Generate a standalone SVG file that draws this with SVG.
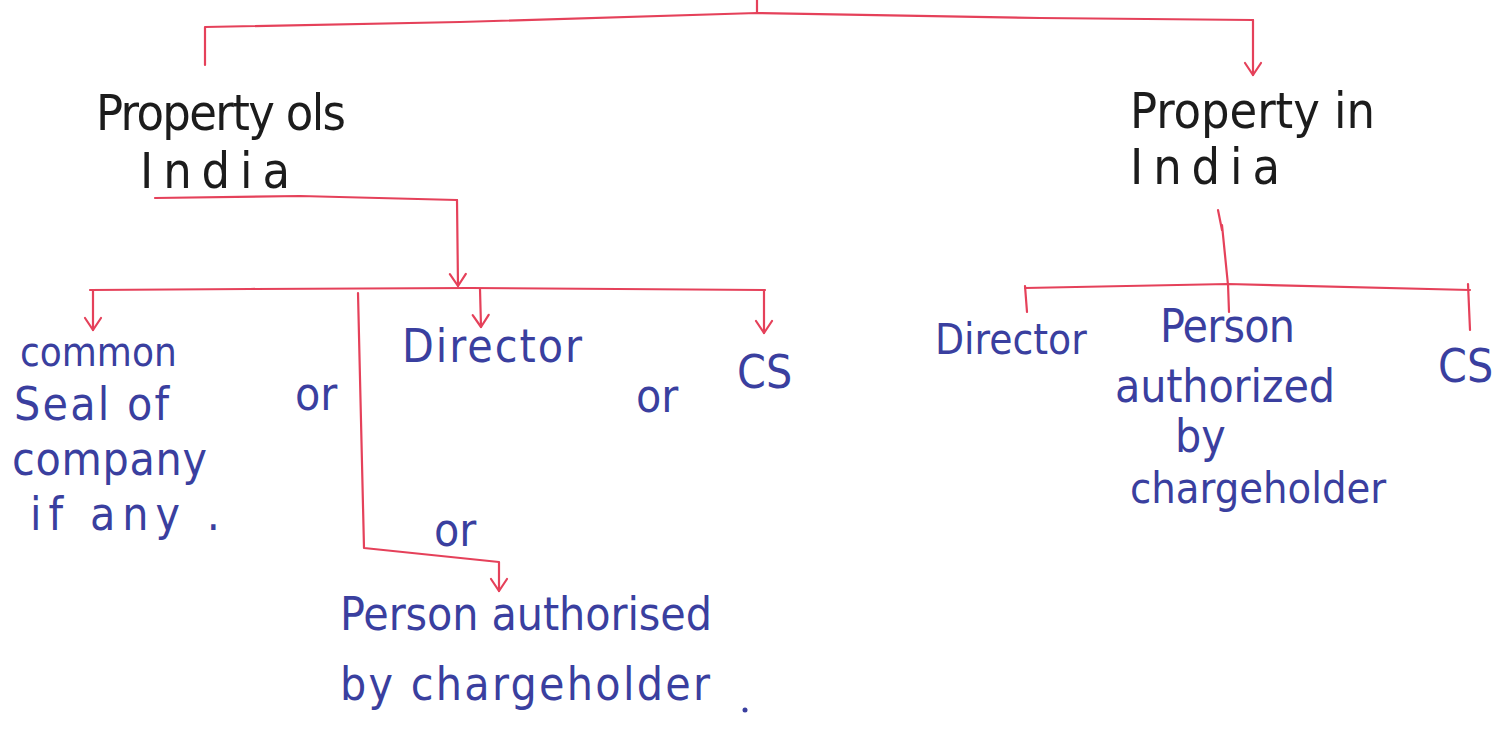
<svg xmlns="http://www.w3.org/2000/svg" width="1495" height="741" viewBox="0 0 1495 741">
<defs>
<style>
.c{fill:none;stroke:#e5415a;stroke-width:2.2;stroke-linecap:round;stroke-linejoin:round}
.k{font-family:"DejaVu Sans Condensed","Liberation Sans",sans-serif;fill:#1c1c1c;font-size:50px}
.b{font-family:"DejaVu Sans Condensed","Liberation Sans",sans-serif;fill:#3a3f9f;font-size:46px}
</style>
<marker id="ah" viewBox="0 0 20 20" refX="18" refY="10" markerWidth="20" markerHeight="20" markerUnits="userSpaceOnUse" orient="auto">
<path d="M6,2 L18,10 L6,18" fill="none" stroke="#e5415a" stroke-width="2.2" stroke-linecap="round" stroke-linejoin="round"/>
</marker>
</defs>
<rect width="1495" height="741" fill="#ffffff"/>
<g id="connectors">
<path class="c" d="M757,0 L757,13"/>
<path class="c" d="M205,65 L205,27 L460,22 L757,13 L1040,18 L1253,20"/>
<path class="c" d="M1253,20 L1253,75" marker-end="url(#ah)"/>
<path class="c" d="M155,198 L300,196 L457,200"/>
<path class="c" d="M457,200 L458,286" marker-end="url(#ah)"/>
<path class="c" d="M90,290 L250,289 L470,288 L765,290"/>
<path class="c" d="M93,290 L93,330" marker-end="url(#ah)"/>
<path class="c" d="M480,289 L481,327" marker-end="url(#ah)"/>
<path class="c" d="M764,290 L764,333" marker-end="url(#ah)"/>
<path class="c" d="M358,293 L364,548 L499,562 L499,591" marker-end="url(#ah)"/>
<path class="c" d="M1218,210 L1222,230"/>
<path class="c" d="M1222,225 L1228,285"/>
<path class="c" d="M1025,288 L1228,284 L1470,290"/>
<path class="c" d="M1025,286 L1027,312"/>
<path class="c" d="M1228,284 L1229,312"/>
<path class="c" d="M1468,284 L1470,330"/>
</g>
<g id="property-outside-india">
<text class="k" x="96" y="130" textLength="250" lengthAdjust="spacing">Property  ols</text>
<text class="k" x="140" y="188" textLength="150" lengthAdjust="spacing">India</text>
</g>
<g id="property-in-india">
<text class="k" x="1130" y="128" textLength="245" lengthAdjust="spacing">Property  in</text>
<text class="k" x="1130" y="184" textLength="150" lengthAdjust="spacing">India</text>
</g>
<g id="common-seal">
<text class="b" x="20" y="366" style="font-size:40px">common</text>
<text class="b" x="14" y="420" textLength="155" lengthAdjust="spacing">Seal of</text>
<text class="b" x="12" y="475" textLength="195" lengthAdjust="spacing">company</text>
<text class="b" x="30" y="530" textLength="190" lengthAdjust="spacing">if any .</text>
</g>
<g id="or-1"><text class="b" x="295" y="410">or</text></g>
<g id="director-1"><text class="b" x="402" y="362" textLength="180" lengthAdjust="spacing">Director</text></g>
<g id="or-2"><text class="b" x="636" y="412">or</text></g>
<g id="cs-1"><text class="b" x="737" y="388">CS</text></g>
<g id="or-3"><text class="b" x="434" y="546">or</text></g>
<g id="person-authorised">
<text class="b" x="340" y="630" textLength="372" lengthAdjust="spacing">Person authorised</text>
<text class="b" x="340" y="700" textLength="370" lengthAdjust="spacing">by chargeholder</text>
<circle cx="745" cy="710" r="2.5" fill="#3a3f9f"/>
</g>
<g id="director-2"><text class="b" x="935" y="354" style="font-size:42px">Director</text></g>
<g id="person-authorized">
<text class="b" x="1160" y="342" textLength="135" lengthAdjust="spacing">Person</text>
<text class="b" x="1115" y="402" textLength="220" lengthAdjust="spacing">authorized</text>
<text class="b" x="1175" y="452">by</text>
<text class="b" x="1130" y="503" style="font-size:43px">chargeholder</text>
</g>
<g id="cs-2"><text class="b" x="1438" y="382">CS</text></g>
</svg>
